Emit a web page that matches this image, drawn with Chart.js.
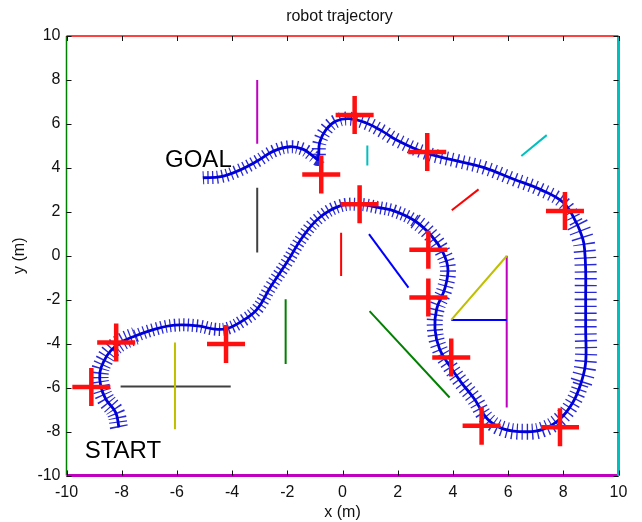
<!DOCTYPE html>
<html><head><meta charset="utf-8">
<script src="https://cdn.jsdelivr.net/npm/chart.js@4"></script>
<style>html,body{margin:0;padding:0;background:#fff}#wrap{width:642px;height:522px}</style>
</head><body><div id="wrap"><canvas id="c" width="642" height="522"></canvas></div>
<script>
// ---- data ----
const trajX = [-8.10,-8.22,-8.58,-8.76,-8.79,-8.64,-8.40,-8.04,-7.51,-6.79,-6.08,-5.24,-4.64,-4.17,-3.57,-3.09,-2.62,-2.02,-1.42,-0.83,-0.11,0.60,1.32,1.91,2.63,3.23,3.64,3.82,3.70,3.41,3.35,3.52,3.88,4.30,4.78,5.25,5.85,6.68,7.28,7.88,8.35,8.65,8.81,8.81,8.81,8.81,8.77,8.71,8.47,8.00,7.16,6.21,5.13,4.18,2.99,1.91,1.44,0.84,0.24,-0.23,-0.59,-0.83,-0.89,-1.07,-1.42,-1.90,-2.50,-3.09,-3.81,-4.41,-5.06];
const trajY = [-7.81,-7.13,-6.52,-5.92,-5.31,-4.78,-4.33,-3.95,-3.65,-3.34,-3.16,-3.19,-3.34,-3.31,-2.92,-2.43,-1.45,-0.31,0.90,1.74,2.26,2.34,2.19,2.02,1.58,0.90,0.15,-0.61,-1.52,-2.43,-3.34,-4.25,-5.01,-5.76,-6.52,-7.43,-7.89,-8.01,-7.89,-7.43,-6.67,-5.76,-4.85,-3.34,-1.98,-0.61,0.30,0.75,1.51,2.42,3.02,3.48,4.01,4.31,4.69,5.30,5.67,6.05,6.24,6.13,5.75,5.15,4.39,4.54,4.84,4.96,4.76,4.31,3.85,3.60,3.55];

const crossX = [-9.10,-8.20,-4.22,-0.77,0.44,0.62,3.07,8.06,3.11,3.11,3.94,5.04,7.88];
const crossY = [-5.97,-3.95,-4.02,3.70,6.40,2.34,4.72,2.04,0.27,-1.90,-4.63,-7.74,-7.81];

// landmark segments
const segX1 = [-3.09,-3.09,0.90,-0.05,0.96,-2.06,-6.07,-8.04,0.98,3.94,3.94,5.95,3.96,6.48];
const segY1 = [8.00,3.10,5.02,1.05,0.98,-1.98,-3.95,-5.95,-2.52,-2.92,-2.92,0.00,2.07,4.54];
const segX2 = [-3.09,-3.09,0.90,-0.05,2.39,-2.06,-6.07,-4.05,3.88,5.95,5.95,5.95,4.93,7.40];
const segY2 = [5.10,0.15,4.11,-0.92,-1.45,-4.93,-7.89,-5.95,-6.45,-0.01,-2.92,-6.90,3.02,5.49];

// walls around the arena
const wallX1 = [-10,10,10,-10];
const wallY1 = [10,10,-10,-10];
const wallX2 = [10,10,-10,-10];
const wallY2 = [10,-10,-10,10];

const tickValues = [-10,-8,-6,-4,-2,0,2,4,6,8,10];
const noteText = ['START','GOAL'];
const noteX = [-9.34,-6.43];
const noteY = [-9.21,4.05];

// ---- styles ----
const segColors = ['#bf00bf','#404040','#00bfbf','#ff0000','#0000ff','#008000','#bfbf00','#404040','#008000','#bfbf00','#0000ff','#bf00bf','#ff0000','#00bfbf'];
const wallColors = ['#ff0000','#00bfbf','#bf00bf','#008000'];
const wallWidths = [1.5,3,3,1.5];
const FONT = 'Liberation Sans, Arial, sans-serif';
// hash-mark length by stretch of the path (index thresholds -> px)
const hashStretchEnd = [8, 24, 41, 48, 62, 999];
const hashLen = [18, 13, 16, 22, 14, 13];
const hashDash = [[1.3,3.2],[1.3,3.2],[1.3,3.8],[1.4,5.5],[1.3,4.2],[1.3,3.5]];

const pts = (xs, ys) => xs.map((x, i) => ({x, y: ys[i]}));
const stretch = i => hashStretchEnd.findIndex(e => i < e);

const datasets = [];
datasets.push({label:'estimates', data: pts(crossX, crossY), showLine:false, pointStyle:'cross', pointRadius:19, pointHoverRadius:19, pointBorderWidth:4.5, borderColor:'#ff1010', backgroundColor:'#ff1010', order:0});
datasets.push({label:'trajectory', data: pts(trajX, trajY), showLine:true, tension:0.4, borderColor:'#0000d8', borderWidth:2.8, pointRadius:0, order:1});
datasets.push({label:'uncertainty', data: pts(trajX, trajY), showLine:true, tension:0.4, borderColor:'#2a2ad4', borderWidth:16, borderDash:[1.3,3.5], borderCapStyle:'butt', borderJoinStyle:'bevel', pointRadius:0, order:2,
  segment:{
    borderWidth: c => hashLen[stretch(c.p0DataIndex)],
    borderDash: c => hashDash[stretch(c.p0DataIndex)]
  }});
segX1.forEach((x, i) => datasets.push({label:'lm'+i, data:[{x, y:segY1[i]},{x:segX2[i], y:segY2[i]}], showLine:true, borderColor:segColors[i], borderWidth:2, pointRadius:0, order:3}));
wallX1.forEach((x, i) => datasets.push({label:'wall'+i, data:[{x, y:wallY1[i]},{x:wallX2[i], y:wallY2[i]}], showLine:true, borderColor:wallColors[i], borderWidth:wallWidths[i], pointRadius:0, order:4}));

const decor = {
  id:'decor',
  afterDraw(chart){
    const ctx = chart.ctx, xs = chart.scales.x, ys = chart.scales.y, a = chart.chartArea;
    ctx.save();
    // inward ticks
    ctx.strokeStyle = '#111'; ctx.lineWidth = 1;
    tickValues.forEach(v => {
      const px = Math.round(xs.getPixelForValue(v)) + 0.5;
      ctx.beginPath(); ctx.moveTo(px, a.bottom); ctx.lineTo(px, a.bottom - 5);
      ctx.moveTo(px, a.top); ctx.lineTo(px, a.top + 5); ctx.stroke();
      const py = Math.round(ys.getPixelForValue(v)) + 0.5;
      ctx.beginPath(); ctx.moveTo(a.left, py); ctx.lineTo(a.left + 5, py);
      ctx.moveTo(a.right, py); ctx.lineTo(a.right - 5, py); ctx.stroke();
    });
    // title
    ctx.fillStyle = '#111'; ctx.font = '16px ' + FONT; ctx.textAlign = 'center'; ctx.textBaseline = 'middle';
    ctx.fillText('robot trajectory', (a.left + a.right) / 2 - 3, 17);
    // notes
    ctx.font = '24px ' + FONT; ctx.textAlign = 'left'; ctx.textBaseline = 'alphabetic'; ctx.fillStyle = '#000';
    noteText.forEach((t, i) => ctx.fillText(t, xs.getPixelForValue(noteX[i]), ys.getPixelForValue(noteY[i])));
    ctx.restore();
  }
};

new Chart(document.getElementById('c'), {
  type:'scatter',
  data:{datasets},
  options:{
    responsive:false, animation:false, devicePixelRatio:1, clip:false,
    layout:{padding:{top:36, right:17.5, bottom:0, left:0}},
    plugins:{legend:{display:false}, tooltip:{enabled:false}, title:{display:false}},
    scales:{
      x:{type:'linear', min:-10, max:10,
        afterFit(s){ s.height = 46.5; },
        grid:{display:false, drawTicks:false}, border:{display:false},
        ticks:{stepSize:2, padding:7, color:'#111', font:{family:FONT, size:16}, maxRotation:0},
        title:{display:true, text:'x (m)', color:'#111', font:{family:FONT, size:16}, padding:{top:0, bottom:0}}},
      y:{type:'linear', min:-10, max:10,
        afterFit(s){ s.width = 66.5; },
        grid:{display:false, drawTicks:false}, border:{display:false},
        ticks:{stepSize:2, padding:6, color:'#111', font:{family:FONT, size:16}},
        title:{display:true, text:'y (m)', color:'#111', font:{family:FONT, size:16}, padding:{top:10, bottom:0}}}
    }
  },
  plugins:[decor]
});
</script></body></html>
